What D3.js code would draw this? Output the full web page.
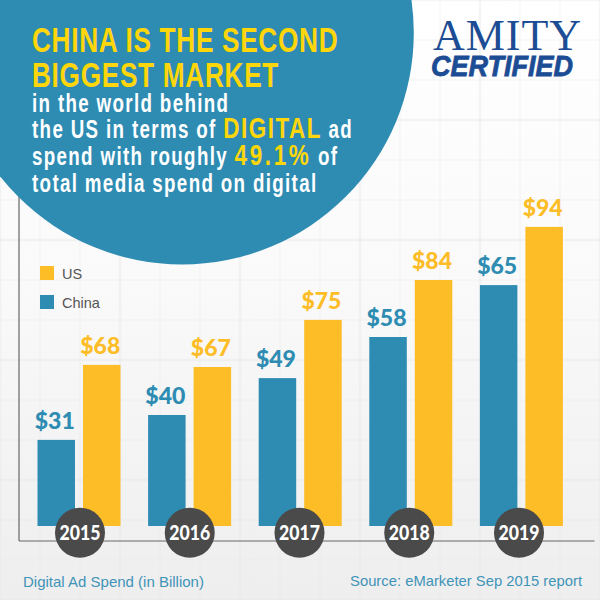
<!DOCTYPE html>
<html>
<head>
<meta charset="utf-8">
<script src="https://cdn.jsdelivr.net/npm/d3@7"></script>
<style>
  html, body { margin: 0; padding: 0; background: #fff; }
  svg { display: block; }
  .bold { font-family: "Liberation Sans", sans-serif; font-weight: 700; }
  .plain { font-family: "Liberation Sans", sans-serif; }
  .round { font-family: Lato, sans-serif; font-weight: 900; }
</style>
</head>
<body>
<div id="chart"></div>
<script>
const years = ["2015", "2016", "2017", "2018", "2019"];
const seriesNames = ["China", "US"];
const legendNames = ["US", "China"];

// printed values
const chinaValues = [31, 40, 49, 58, 65];
const usValues = [68, 67, 75, 84, 94];

// the bars in the original are not proportional to their labels,
// so the drawn lengths are read off the picture separately (0-100 axis)
const chinaLengths = [28.7, 37, 49.3, 63, 80.3];
const usLengths = [53.7, 53, 68.7, 82, 99.7];

const colors = { China: "#2e8cb3", US: "#fdbd27" };
const yellowText = "#ffd60a";

const width = 600;
const height = 600;

const svg = d3.select("#chart").append("svg")
  .attr("width", width)
  .attr("height", height);

// --- background ---
const defs = svg.append("defs");
const grad = defs.append("linearGradient")
  .attr("id", "bg").attr("x1", 0).attr("y1", 0).attr("x2", 0).attr("y2", 1);
grad.append("stop").attr("offset", "0%").attr("stop-color", "#ffffff");
grad.append("stop").attr("offset", "45%").attr("stop-color", "#fafafa");
grad.append("stop").attr("offset", "100%").attr("stop-color", "#eeeeee");

svg.append("rect")
  .attr("width", width).attr("height", height)
  .attr("fill", "url(#bg)");

// faint graph paper
const grid = svg.append("g").attr("stroke", "#e6e6e6").attr("stroke-opacity", 0.4);
grid.selectAll(".v").data(d3.range(0, 601, 40)).enter().append("line")
  .attr("x1", d => d).attr("x2", d => d).attr("y1", 0).attr("y2", height)
  .attr("stroke-width", d => (d % 120 === 0 ? 2.5 : 1));
grid.selectAll(".h").data(d3.range(0, 601, 40)).enter().append("line")
  .attr("y1", d => d).attr("y2", d => d).attr("x1", 0).attr("x2", width)
  .attr("stroke-width", d => (d % 120 === 0 ? 2.5 : 1));

// --- scales ---
const x = d3.scaleBand().domain(years).range([37.5, 590.5]);
const xYear = d3.scalePoint().domain(years).range([80, 519]);
const xSeries = d3.scaleOrdinal().domain(seriesNames).range([0, 45.5]);
const y = d3.scaleLinear().domain([0, 100]).range([526, 226]);
const barWidth = 37.5;

// --- axes ---
const axisX = d3.scaleLinear().domain([0, 1]).range([18.5, 594]);
const axisY = d3.scaleLinear().domain([0, 1]).range([540.5, 190]);
const axisG = svg.append("g");
axisG.append("g").attr("transform", "translate(0,540.5)")
  .call(d3.axisBottom(axisX).tickValues([]).tickSize(0));
axisG.append("g").attr("transform", "translate(18.5,0)")
  .call(d3.axisLeft(axisY).tickValues([]).tickSize(0));
axisG.selectAll("path").attr("stroke", "#666").attr("stroke-width", 1.2);

// --- bars ---
const rows = years.map((year, i) => [
  { year, name: "China", value: chinaValues[i], length: chinaLengths[i] },
  { year, name: "US", value: usValues[i], length: usLengths[i] }
]).flat();

svg.selectAll(".bar").data(rows).enter().append("rect")
  .attr("class", "bar")
  .attr("x", d => x(d.year) + xSeries(d.name))
  .attr("y", d => y(d.length))
  .attr("width", barWidth)
  .attr("height", d => y(0) - y(d.length))
  .attr("fill", d => colors[d.name]);

svg.selectAll(".val").data(rows).enter().append("text")
  .attr("class", "val round")
  .attr("x", d => x(d.year) + xSeries(d.name) + barWidth / 2 - 1.5)
  .attr("y", d => y(d.length) - 11)
  .attr("text-anchor", "middle")
  .attr("font-size", 23)
  .attr("fill", d => colors[d.name])
  .text(d => "$" + d.value);

// --- year badges ---
const badges = svg.selectAll(".badge").data(years).enter().append("g")
  .attr("class", "badge")
  .attr("transform", d => `translate(${xYear(d)},532.7)`);
badges.append("circle").attr("r", 25).attr("fill", "#4a4a4a");
badges.append("text")
  .attr("class", "round")
  .attr("y", 7.5)
  .attr("text-anchor", "middle")
  .attr("font-size", 21)
  .attr("textLength", 41)
  .attr("lengthAdjust", "spacingAndGlyphs")
  .attr("fill", "#fff")
  .text(d => d);

// --- legend ---
const legend = svg.selectAll(".legend").data(legendNames).enter().append("g")
  .attr("class", "legend")
  .attr("transform", (d, i) => `translate(40,${266 + i * 29})`);
legend.append("rect").attr("width", 14).attr("height", 14).attr("fill", d => colors[d]);
legend.append("text")
  .attr("class", "plain")
  .attr("x", 22).attr("y", 13)
  .attr("font-size", 14.5)
  .attr("fill", "#555")
  .text(d => d);

// --- headline circle ---
svg.append("circle")
  .attr("cx", 182).attr("cy", 32.7).attr("r", 231.8)
  .attr("fill", "#2e8cb3");

// no narrow face is installed, so the bold face is squeezed horizontally
const headlineSqueeze = 0.75;
const headline = [
  { y: 52, parts: [["CHINA IS THE SECOND", 35, yellowText, 0.9]] },
  { y: 87, parts: [["BIGGEST MARKET", 35, yellowText, 0.9]] },
  { y: 112, parts: [["in the world behind", 25, "#fff", 1.8]] },
  { y: 138, parts: [["the US in terms of ", 25, "#fff", 1.8], ["DIGITAL", 30, yellowText, 2], [" ad", 25, "#fff", 1.8]] },
  { y: 165, parts: [["spend with roughly ", 25, "#fff", 1.8], ["49.1%", 30, yellowText, 3.5], [" of", 25, "#fff", 1.8]] },
  { y: 192, parts: [["total media spend on digital", 25, "#fff", 1.8]] }
];
const lines = svg.selectAll(".headline").data(headline).enter().append("text")
  .attr("class", "headline bold")
  .attr("transform", d => `translate(32,${d.y}) scale(${headlineSqueeze},1)`)
  .attr("style", "white-space:pre");
lines.selectAll("tspan").data(d => d.parts).enter().append("tspan")
  .attr("font-size", d => d[1])
  .attr("fill", d => d[2])
  .attr("letter-spacing", d => d[3])
  .text(d => d[0]);

// --- logo ---
svg.append("text")
  .attr("x", 433).attr("y", 50)
  .attr("font-family", "Liberation Serif, serif")
  .attr("font-size", 44)
  .attr("textLength", 148)
  .attr("fill", "#1b4c94")
  .text("AMITY");
svg.append("text")
  .attr("class", "bold")
  .attr("x", 431).attr("y", 76)
  .attr("font-size", 29)
  .attr("font-style", "italic")
  .attr("textLength", 142)
  .attr("lengthAdjust", "spacingAndGlyphs")
  .attr("fill", "#1b4c94")
  .attr("stroke", "#1b4c94")
  .attr("stroke-width", 0.8)
  .text("CERTIFIED");

// --- footer ---
svg.append("text")
  .attr("class", "plain")
  .attr("x", 23).attr("y", 587)
  .attr("font-size", 15)
  .attr("fill", "#3f94b8")
  .text("Digital Ad Spend (in Billion)");
svg.append("text")
  .attr("class", "plain")
  .attr("x", 582).attr("y", 586)
  .attr("text-anchor", "end")
  .attr("font-size", 14.8)
  .attr("fill", "#3f94b8")
  .text("Source: eMarketer Sep 2015 report");
</script>
</body>
</html>
